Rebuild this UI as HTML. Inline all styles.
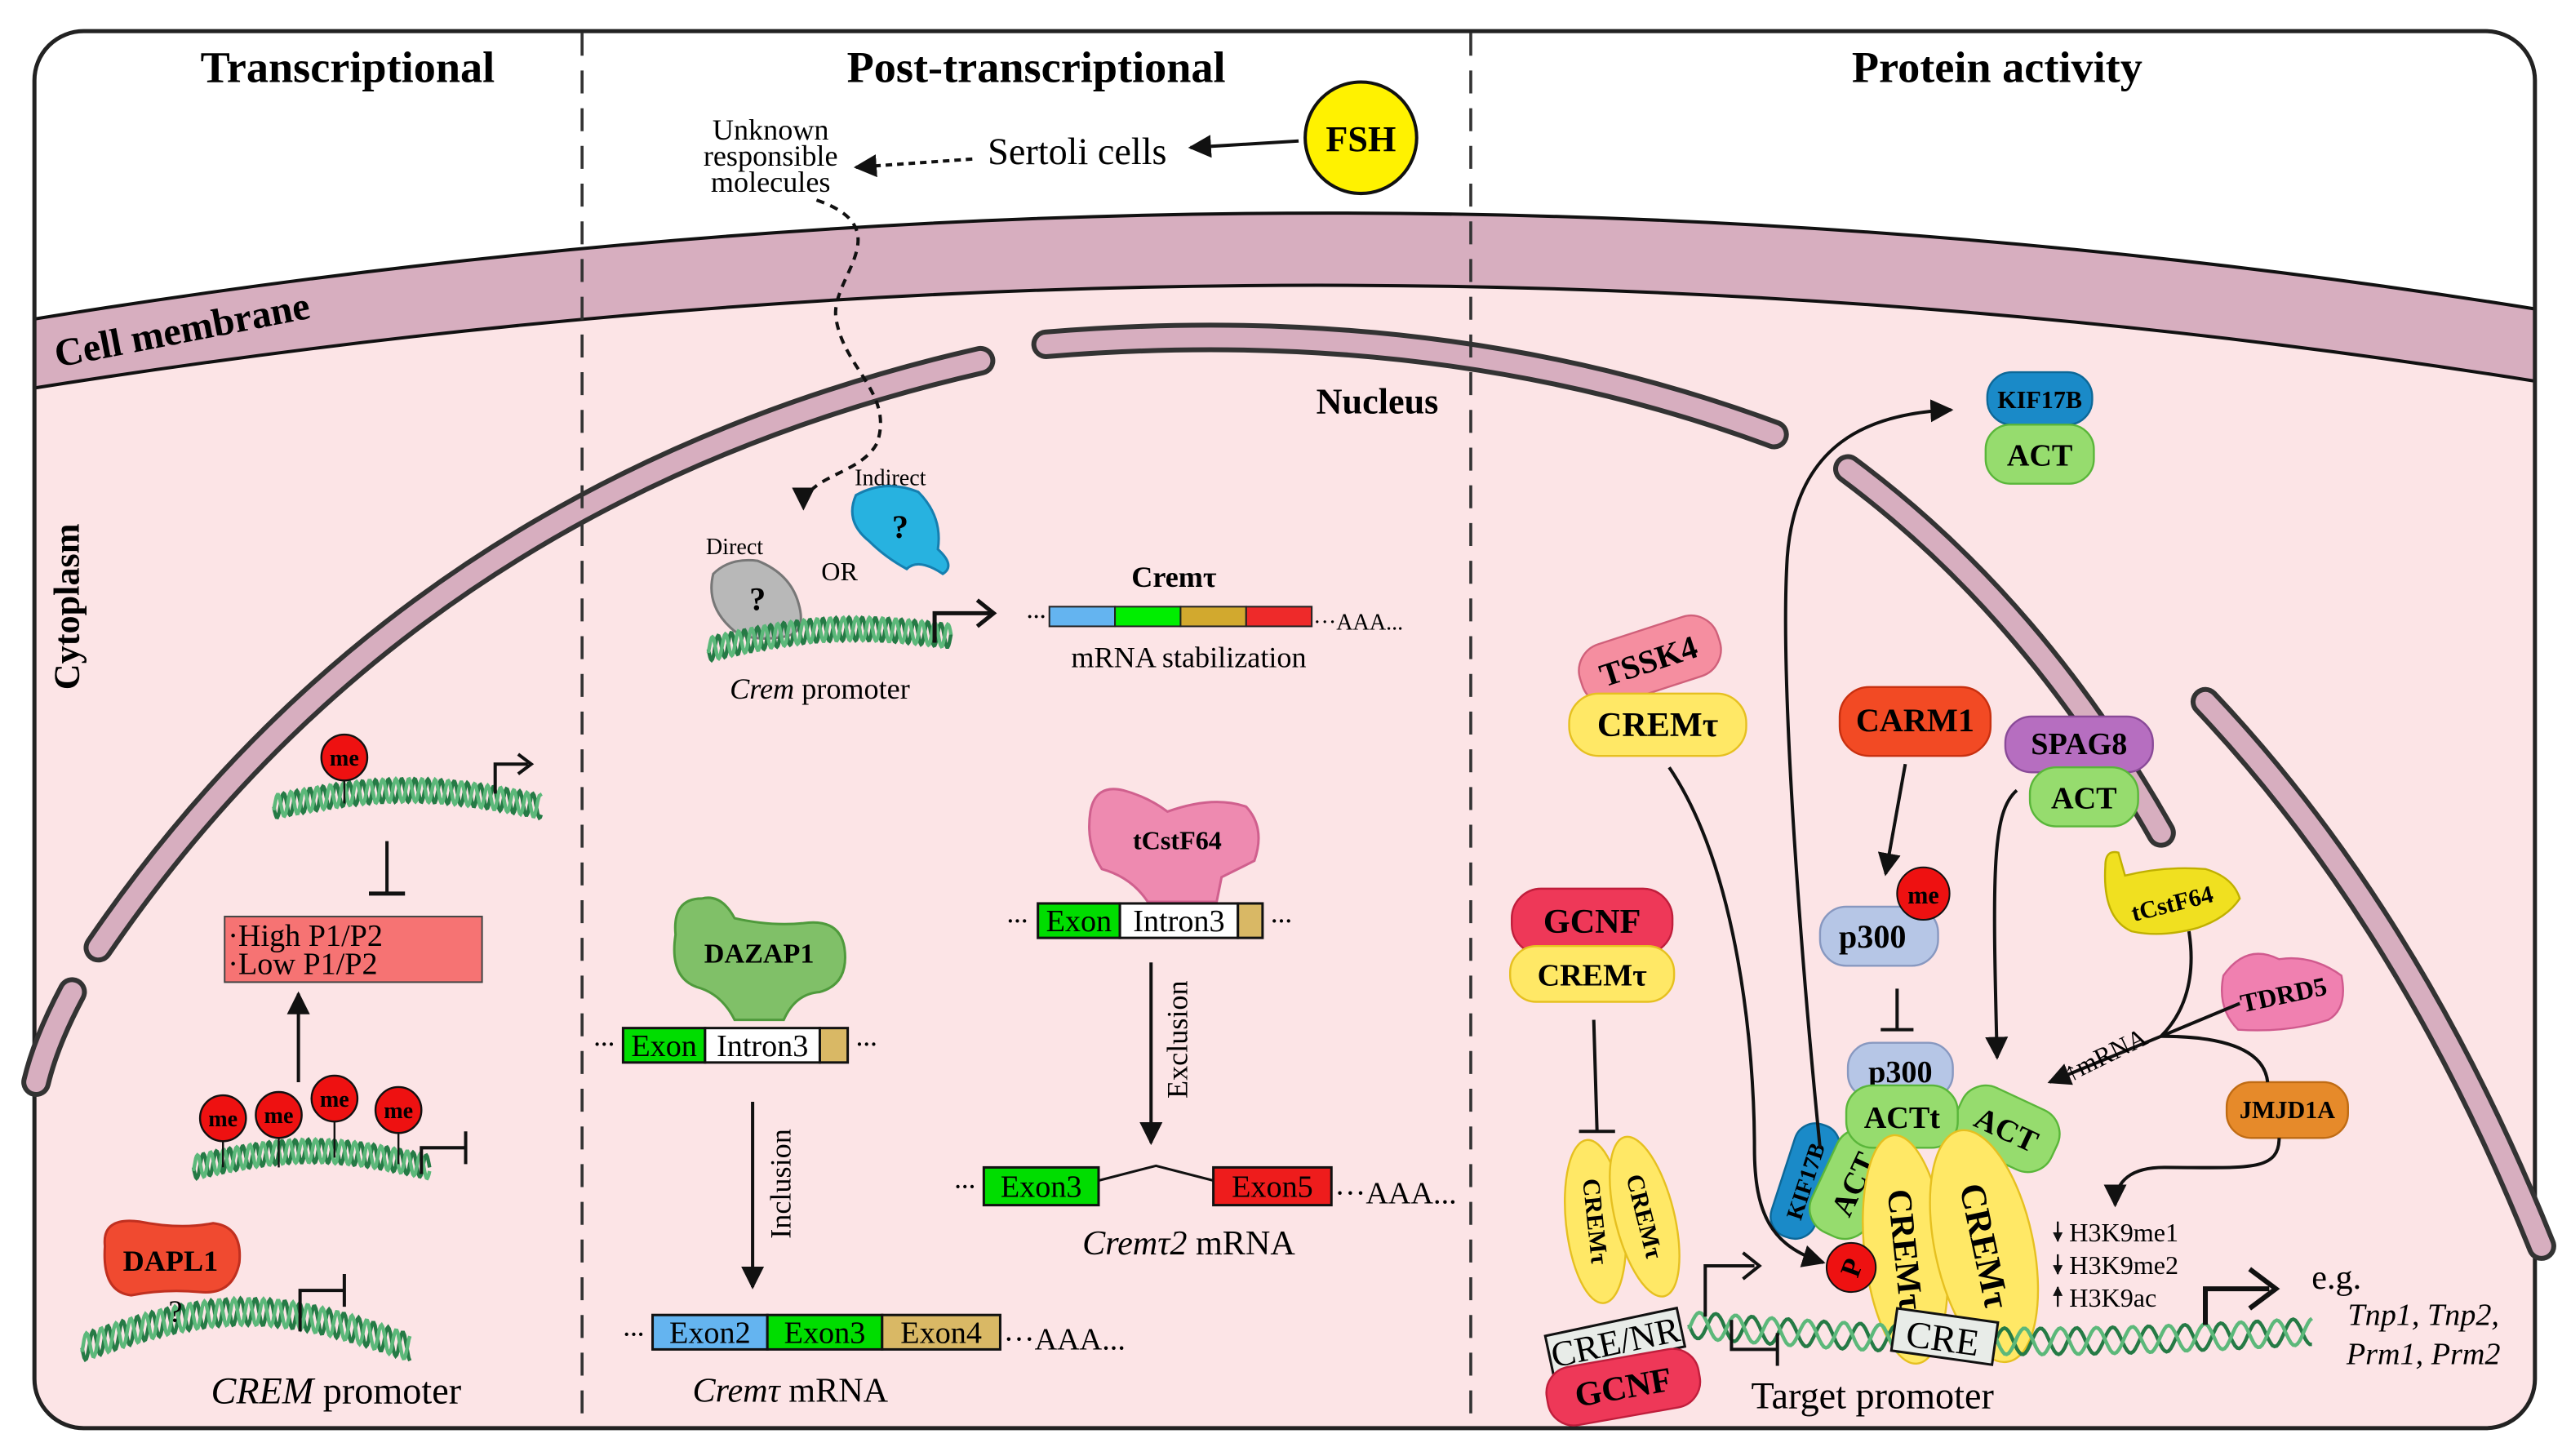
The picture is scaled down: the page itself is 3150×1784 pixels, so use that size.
<!DOCTYPE html>
<html><head><meta charset="utf-8">
<style>
html,body{margin:0;padding:0;background:#fff;}
svg{display:block;font-family:"Liberation Serif",serif;}
text{font-family:"Liberation Serif",serif;}
.b{font-weight:bold;}
</style></head>
<body>
<svg id="s" width="3150" height="1784" viewBox="0 0 1568 888" preserveAspectRatio="none" xmlns="http://www.w3.org/2000/svg" font-family="Liberation Serif, serif">
<defs>
<marker id="ah" viewBox="0 0 10 10" refX="9" refY="5" markerWidth="7" markerHeight="7" orient="auto"><path d="M0,0 L10,5 L0,10 z" fill="#111"/></marker>
<marker id="ahb" viewBox="0 0 10 10" refX="9" refY="5" markerWidth="5" markerHeight="5" orient="auto"><path d="M0,0 L10,5 L0,10 z" fill="#111"/></marker>
<clipPath id="cell"><rect x="21" y="19" width="1525" height="852" rx="30"/></clipPath>
</defs>
<rect x="21" y="19" width="1525" height="852" rx="30" fill="#fff"/>
<g clip-path="url(#cell)">
<path d="M0,240 Q800,110 1568,236 L1568,900 L0,900 Z" fill="#fce4e6"/>
<path d="M0,198 Q800,65 1568,192 L1568,236 Q800,110 0,240 Z" fill="#d7aebf" stroke="#111" stroke-width="2"/>
</g>
<rect x="21" y="19" width="1525" height="852" rx="30" fill="none" stroke="#222" stroke-width="2.5"/>
<text x="35" y="224" transform="rotate(-11 35 224)" font-size="24" class="b">Cell membrane</text>
<text x="48" y="370" transform="rotate(-90 48 370)" font-size="22" class="b" text-anchor="middle">Cytoplasm</text>

<g fill="none" stroke-linecap="round">
<g stroke="#333" stroke-width="18">
<path d="M60,578 Q250,300 598,220"/>
<path d="M44,605 Q28,635 22,660"/>
<path d="M638,210 Q880,190 1082,265"/>
<path d="M1127,286 Q1240,370 1318,508"/>
<path d="M1345,428 Q1470,560 1550,760"/>
</g>
<g stroke="#d7aebf" stroke-width="12">
<path d="M60,578 Q250,300 598,220"/>
<path d="M44,605 Q28,635 22,660"/>
<path d="M638,210 Q880,190 1082,265"/>
<path d="M1127,286 Q1240,370 1318,508"/>
<path d="M1345,428 Q1470,560 1550,760"/>
</g>
</g>
<text x="840" y="252" font-size="22" class="b" text-anchor="middle">Nucleus</text>

<line x1="355" y1="20" x2="355" y2="870" stroke="#333" stroke-width="1.8" stroke-dasharray="14,9"/>
<line x1="897" y1="20" x2="897" y2="870" stroke="#333" stroke-width="1.8" stroke-dasharray="14,9"/>

<text x="212" y="50" font-size="27" class="b" text-anchor="middle">Transcriptional</text>
<text x="632" y="50" font-size="27" class="b" text-anchor="middle">Post-transcriptional</text>
<text x="1218" y="50" font-size="27" class="b" text-anchor="middle">Protein activity</text>

<circle cx="830" cy="84" r="34" fill="#fff200" stroke="#111" stroke-width="2"/>
<text x="830" y="92" font-size="22" class="b" text-anchor="middle">FSH</text>
<line x1="792" y1="86" x2="726" y2="90" stroke="#111" stroke-width="2" marker-end="url(#ah)"/>
<text x="657" y="100" font-size="23" text-anchor="middle">Sertoli cells</text>
<line x1="593" y1="97" x2="522" y2="102" stroke="#111" stroke-width="2" stroke-dasharray="4,3" marker-end="url(#ah)"/>
<text x="470" y="85" font-size="18" text-anchor="middle">Unknown</text>
<text x="470" y="101" font-size="18" text-anchor="middle">responsible</text>
<text x="470" y="117" font-size="18" text-anchor="middle">molecules</text>
<path d="M498,122 C550,140 505,170 510,195 C515,225 545,240 535,270 C525,290 490,290 490,310" fill="none" stroke="#111" stroke-width="2" stroke-dasharray="5,4" marker-end="url(#ah)"/>

<text x="543" y="296" font-size="14" text-anchor="middle">Indirect</text>
<path d="M522,302 Q540,292 560,300 Q575,315 572,335 Q583,345 575,350 Q560,340 553,347 Q540,340 530,330 Q515,318 522,302Z" fill="#27b2e0" stroke="#157fb0" stroke-width="1.5"/>
<text x="549" y="328" font-size="20" class="b" text-anchor="middle">?</text>
<text x="448" y="338" font-size="14" text-anchor="middle">Direct</text>
<text x="512" y="354" font-size="16" text-anchor="middle">OR</text>
<path d="M435,350 Q445,340 462,342 Q482,350 487,368 Q492,385 480,388 Q460,392 448,385 Q430,370 435,350Z" fill="#b8b8b8" stroke="#777" stroke-width="1.5"/>
<text x="462" y="372" font-size="20" class="b" text-anchor="middle">?</text>
<g id="h1"></g>
<path d="M570,392 L570,374 L604,374" fill="none" stroke="#111" stroke-width="2.5"/>
<path d="M596,366 L606,374 L596,382" fill="none" stroke="#111" stroke-width="2.5"/>
<text x="500" y="426" font-size="18" text-anchor="middle"><tspan font-style="italic">Crem</tspan> promoter</text>
<text x="716" y="358" font-size="18" class="b" text-anchor="middle">Cremτ</text>
<text x="632" y="380" font-size="12" class="b" text-anchor="middle">···</text>
<rect x="640" y="370" width="40" height="12" fill="#64b4f0" stroke="#222"/>
<rect x="680" y="370" width="40" height="12" fill="#0e0" stroke="#222"/>
<rect x="720" y="370" width="40" height="12" fill="#d2a92e" stroke="#222"/>
<rect x="760" y="370" width="40" height="12" fill="#ee2a2a" stroke="#222"/>
<text x="801" y="384" font-size="14">···AAA...</text>
<text x="725" y="407" font-size="18" text-anchor="middle">mRNA stabilization</text>

<path d="M412,570 Q410,548 428,548 Q440,545 448,560 Q470,565 490,563 Q512,560 515,578 Q518,600 500,605 Q485,606 478,622 L448,622 Q440,606 425,602 Q408,596 412,570Z" fill="#80c068" stroke="#4f9a3c" stroke-width="1.5"/>
<text x="463" y="587" font-size="17" class="b" text-anchor="middle">DAZAP1</text>
<text x="362" y="641" font-size="13" class="b">···</text>
<rect x="380" y="627" width="50" height="21" fill="#0d0" stroke="#111" stroke-width="1.5"/>
<rect x="430" y="627" width="70" height="21" fill="#fff" stroke="#111" stroke-width="1.5"/>
<rect x="500" y="627" width="17" height="21" fill="#d9b865" stroke="#111" stroke-width="1.5"/>
<text x="405" y="644" font-size="19" text-anchor="middle">Exon</text>
<text x="465" y="644" font-size="19" text-anchor="middle">Intron3</text>
<text x="522" y="641" font-size="13" class="b">···</text>
<line x1="459" y1="672" x2="459" y2="785" stroke="#111" stroke-width="2" marker-end="url(#ah)"/>
<text x="482" y="722" transform="rotate(-90 482 722)" font-size="18" text-anchor="middle">Inclusion</text>
<text x="380" y="818" font-size="13" class="b">···</text>
<rect x="398" y="802" width="70" height="21" fill="#64b4f0" stroke="#111" stroke-width="1.5"/>
<rect x="468" y="802" width="70" height="21" fill="#0d0" stroke="#111" stroke-width="1.5"/>
<rect x="538" y="802" width="72" height="21" fill="#d9b865" stroke="#111" stroke-width="1.5"/>
<text x="433" y="819" font-size="19" text-anchor="middle">Exon2</text>
<text x="503" y="819" font-size="19" text-anchor="middle">Exon3</text>
<text x="574" y="819" font-size="19" text-anchor="middle">Exon4</text>
<text x="612" y="823" font-size="19">···AAA...</text>
<text x="482" y="855" font-size="21" text-anchor="middle"><tspan font-style="italic">Cremτ</tspan> mRNA</text>

<path d="M665,495 Q668,478 685,482 Q700,486 712,495 Q740,485 760,492 Q772,505 765,525 Q755,530 745,535 L742,550 L700,550 Q690,535 672,530 Q662,515 665,495Z" fill="#ee8ab0" stroke="#d0608e" stroke-width="1.5"/>
<text x="718" y="518" font-size="16" class="b" text-anchor="middle">tCstF64</text>
<text x="614" y="566" font-size="13" class="b">···</text>
<rect x="633" y="551" width="50" height="21" fill="#0d0" stroke="#111" stroke-width="1.5"/>
<rect x="683" y="551" width="72" height="21" fill="#fff" stroke="#111" stroke-width="1.5"/>
<rect x="755" y="551" width="15" height="21" fill="#d9b865" stroke="#111" stroke-width="1.5"/>
<text x="658" y="568" font-size="19" text-anchor="middle">Exon</text>
<text x="719" y="568" font-size="19" text-anchor="middle">Intron3</text>
<text x="775" y="566" font-size="13" class="b">···</text>
<line x1="702" y1="587" x2="702" y2="697" stroke="#111" stroke-width="2" marker-end="url(#ah)"/>
<text x="724" y="634" transform="rotate(-90 724 634)" font-size="18" text-anchor="middle">Exclusion</text>
<text x="582" y="728" font-size="13" class="b">···</text>
<rect x="600" y="712" width="70" height="23" fill="#0d0" stroke="#111" stroke-width="1.5"/>
<text x="635" y="730" font-size="19" text-anchor="middle">Exon3</text>
<path d="M670,720 L705,711 L740,720" fill="none" stroke="#111" stroke-width="1.5"/>
<rect x="740" y="712" width="72" height="23" fill="#ee1c1c" stroke="#111" stroke-width="1.5"/>
<text x="776" y="730" font-size="19" text-anchor="middle">Exon5</text>
<text x="814" y="734" font-size="19">···AAA...</text>
<text x="725" y="765" font-size="21" text-anchor="middle"><tspan font-style="italic">Cremτ2</tspan> mRNA</text>

<line x1="210" y1="474" x2="210" y2="490" stroke="#111" stroke-width="1.2"/>
<circle cx="210" cy="462" r="14" fill="#ee1111" stroke="#111" stroke-width="1.2"/>
<text x="210" y="467" font-size="14" class="b" text-anchor="middle">me</text>
<path d="M302,484 L302,466 L322,466" fill="none" stroke="#111" stroke-width="2"/>
<path d="M316,460 L324,466 L316,472" fill="none" stroke="#111" stroke-width="2"/>
<line x1="236" y1="513" x2="236" y2="545" stroke="#111" stroke-width="2"/>
<line x1="225" y1="545" x2="247" y2="545" stroke="#111" stroke-width="2.5"/>
<rect x="137" y="559" width="157" height="40" fill="#f67373" stroke="#444" stroke-width="1"/>
<text x="139" y="577" font-size="19">·High P1/P2</text>
<text x="139" y="594" font-size="19">·Low P1/P2</text>
<line x1="182" y1="660" x2="182" y2="606" stroke="#111" stroke-width="2" marker-end="url(#ah)"/>
<g stroke="#111" stroke-width="1.2">
<line x1="136" y1="690" x2="136" y2="712"/><line x1="170" y1="690" x2="170" y2="712"/><line x1="204" y1="680" x2="204" y2="706"/><line x1="243" y1="685" x2="243" y2="710"/>
</g>
<g fill="#ee1111" stroke="#111" stroke-width="1.2">
<circle cx="136" cy="682" r="14"/><circle cx="170" cy="680" r="14"/><circle cx="204" cy="670" r="14"/><circle cx="243" cy="677" r="14"/>
</g>
<g font-size="14" text-anchor="middle" font-weight="bold">
<text x="136" y="687">me</text><text x="170" y="685">me</text><text x="204" y="675">me</text><text x="243" y="682">me</text>
</g>
<path d="M257,716 L257,700 L284,700 M284,690 L284,710" fill="none" stroke="#111" stroke-width="2"/>
<path d="M64,760 Q62,742 85,745 Q110,750 130,746 Q148,748 146,770 Q142,790 122,788 Q100,786 80,790 Q62,788 64,760Z" fill="#f04a30" stroke="#c03020" stroke-width="1.5"/>
<text x="104" y="775" font-size="18" class="b" text-anchor="middle">DAPL1</text>
<text x="107" y="806" font-size="19" text-anchor="middle">?</text>
<path d="M183,812 L183,787 L210,787 M210,777 L210,797" fill="none" stroke="#111" stroke-width="2"/>
<text x="205" y="856" font-size="23" text-anchor="middle"><tspan font-style="italic">CREM</tspan> promoter</text>

<g font-weight="bold" text-anchor="middle">
<rect x="1212" y="227" width="64" height="32" rx="15" fill="#1a8ac8" stroke="#0d6898" stroke-width="1.2"/>
<text x="1244" y="249" font-size="15">KIF17B</text>
<rect x="1211" y="259" width="66" height="36" rx="15" fill="#96dc6e" stroke="#5ab63a" stroke-width="1.2"/>
<text x="1244" y="284" font-size="19">ACT</text>
<g transform="rotate(-18 1005 402)"><rect x="962" y="384" width="88" height="38" rx="17" fill="#f58ea0" stroke="#d0607a" stroke-width="1.2"/><text x="1005" y="410" font-size="20">TSSK4</text></g>
<rect x="957" y="423" width="108" height="38" rx="18" fill="#ffe866" stroke="#e6c020" stroke-width="1.2"/>
<text x="1011" y="449" font-size="21">CREMτ</text>
<rect x="1122" y="419" width="92" height="42" rx="18" fill="#f24a24" stroke="#c83010" stroke-width="1.2"/>
<text x="1168" y="446" font-size="20">CARM1</text>
<rect x="1223" y="437" width="90" height="34" rx="16" fill="#b66ec0" stroke="#8a4a98" stroke-width="1.2"/>
<text x="1268" y="460" font-size="19">SPAG8</text>
<rect x="1238" y="468" width="66" height="36" rx="16" fill="#96dc6e" stroke="#5ab63a" stroke-width="1.2"/>
<text x="1271" y="493" font-size="19">ACT</text>
<rect x="922" y="542" width="98" height="40" rx="18" fill="#ee3858" stroke="#c01e3c" stroke-width="1.2"/>
<text x="971" y="569" font-size="21">GCNF</text>
<rect x="921" y="577" width="100" height="34" rx="16" fill="#ffe866" stroke="#e6c020" stroke-width="1.2"/>
<text x="971" y="601" font-size="19">CREMτ</text>
<rect x="1110" y="553" width="72" height="36" rx="16" fill="#b6c6e6" stroke="#8898c0" stroke-width="1.2"/>
<text x="1142" y="578" font-size="20">p300</text>
<circle cx="1173" cy="545" r="16" fill="#ee1111" stroke="#111" stroke-width="1"/>
<text x="1173" y="551" font-size="15">me</text>
<path d="M1284,528 Q1284,518 1292,520 L1296,534 Q1320,528 1345,530 Q1362,535 1366,548 Q1358,560 1340,566 Q1318,572 1300,568 Q1282,560 1284,528Z" fill="#f0e020" stroke="#c0b000" stroke-width="1.2"/>
<text x="1325" y="556" font-size="15" transform="rotate(-14 1325 552)">tCstF64</text>
<path d="M1356,595 Q1370,575 1390,585 Q1410,582 1428,595 Q1432,615 1420,622 Q1395,630 1365,628 Q1352,615 1356,595Z" fill="#f080b0" stroke="#d05a8e" stroke-width="1.2"/>
<text x="1393" y="612" font-size="16" transform="rotate(-12 1393 608)">TDRD5</text>
<rect x="1358" y="660" width="74" height="34" rx="15" fill="#e68a2a" stroke="#c06c14" stroke-width="1.2"/>
<text x="1395" y="682" font-size="15">JMJD1A</text>
</g>

<g font-weight="bold" text-anchor="middle">
<rect x="1127" y="636" width="64" height="34" rx="15" fill="#b6c6e6" stroke="#8898c0" stroke-width="1.2"/>
<text x="1159" y="660" font-size="19">p300</text>
<g transform="rotate(25 1223 688)"><rect x="1192" y="668" width="64" height="40" rx="16" fill="#96dc6e" stroke="#5ab63a" stroke-width="1.2"/><text x="1224" y="695" font-size="19">ACT</text></g>
<g transform="rotate(-72 1100 720)"><rect x="1064" y="707" width="72" height="28" rx="13" fill="#1a8ac8" stroke="#0d6898" stroke-width="1.2"/><text x="1100" y="726" font-size="14">KIF17B</text></g>
<g transform="rotate(-65 1130 722)"><rect x="1096" y="703" width="68" height="38" rx="16" fill="#96dc6e" stroke="#5ab63a" stroke-width="1.2"/><text x="1130" y="729" font-size="19">ACT</text></g>
<rect x="1126" y="662" width="68" height="38" rx="16" fill="#96dc6e" stroke="#5ab63a" stroke-width="1.2"/>
<text x="1160" y="688" font-size="19">ACTt</text>
<g transform="rotate(-6 1162 762)"><ellipse cx="1162" cy="762" rx="25" ry="70" fill="#ffe866" stroke="#e6c020" stroke-width="1.2"/><text x="1162" y="762" font-size="21" transform="rotate(90 1162 762)" dy="7">CREMτ</text></g>
<g transform="rotate(-12 1210 760)"><ellipse cx="1210" cy="760" rx="30" ry="72" fill="#ffe866" stroke="#e6c020" stroke-width="1.2"/><text x="1210" y="760" font-size="22" transform="rotate(90 1210 760)" dy="7">CREMτ</text></g>
<g transform="rotate(-6 973 745)"><ellipse cx="973" cy="745" rx="18" ry="50" fill="#ffe866" stroke="#e6c020" stroke-width="1.2"/><text x="973" y="745" font-size="15" transform="rotate(90 973 745)" dy="5">CREMτ</text></g>
<g transform="rotate(-14 1003 742)"><ellipse cx="1003" cy="742" rx="18" ry="50" fill="#ffe866" stroke="#e6c020" stroke-width="1.2"/><text x="1003" y="742" font-size="15" transform="rotate(90 1003 742)" dy="5">CREMτ</text></g>
<circle cx="1129" cy="773" r="15" fill="#ee1111" stroke="#111" stroke-width="1"/>
<text x="1129" y="779" font-size="17" transform="rotate(-70 1129 773)">P</text>
</g>

<g id="h2"></g>
<g transform="rotate(-12 985 818)"><rect x="944" y="806" width="82" height="24" fill="#e8ece8" stroke="#111" stroke-width="1.5"/><text x="985" y="826" font-size="22" text-anchor="middle">CRE/NR</text></g>
<rect x="943" y="828" width="94" height="36" rx="16" fill="#ee3858" stroke="#c01e3c" stroke-width="1.2" transform="rotate(-10 990 846)"/>
<text x="990" y="853" font-size="21" text-anchor="middle" font-weight="bold" transform="rotate(-10 990 846)">GCNF</text>
<g transform="rotate(8 1185 815)"><rect x="1155" y="802" width="62" height="26" fill="#e8ece8" stroke="#111" stroke-width="1.5"/><text x="1185" y="824" font-size="23" text-anchor="middle">CRE</text></g>
<text x="1142" y="859" font-size="23" text-anchor="middle">Target promoter</text>
<path d="M1040,803 L1040,772 L1070,772" fill="none" stroke="#111" stroke-width="2"/>
<path d="M1063,764 L1073,772 L1063,780" fill="none" stroke="#111" stroke-width="2"/>
<path d="M1056,805 L1056,823 L1084,823 M1084,813 L1084,833" fill="none" stroke="#111" stroke-width="2"/>
<path d="M1345,808 L1345,786 L1384,786" fill="none" stroke="#111" stroke-width="3"/>
<path d="M1372,774 L1388,786 L1372,798" fill="none" stroke="#111" stroke-width="3"/>
<g font-size="16">
<text x="1262" y="757">H3K9me1</text><text x="1262" y="777">H3K9me2</text><text x="1262" y="797">H3K9ac</text>
</g>
<g stroke="#111" stroke-width="1.2">
<line x1="1255" y1="745" x2="1255" y2="757" marker-end="url(#ahb)"/>
<line x1="1255" y1="765" x2="1255" y2="777" marker-end="url(#ahb)"/>
<line x1="1255" y1="797" x2="1255" y2="785" marker-end="url(#ahb)"/>
</g>
<text x="1425" y="786" font-size="21" text-anchor="middle">e.g.</text>
<text x="1478" y="808" font-size="19" font-style="italic" text-anchor="middle">Tnp1, Tnp2,</text>
<text x="1478" y="832" font-size="19" font-style="italic" text-anchor="middle">Prm1, Prm2</text>

<g fill="none" stroke="#111" stroke-width="2">
<path d="M1018,468 C1060,530 1070,640 1070,700 C1070,740 1080,760 1112,770" marker-end="url(#ah)"/>
<path d="M1110,700 C1100,600 1085,420 1090,340 C1095,270 1140,252 1190,250" marker-end="url(#ah)"/>
<path d="M1162,466 L1150,533" marker-end="url(#ah)"/>
<path d="M1157,603 L1157,628 M1147,628 L1167,628"/>
<path d="M1230,482 C1215,495 1215,530 1218,645" marker-end="url(#ah)"/>
<path d="M1335,568 C1340,600 1330,620 1318,632"/>
<path d="M1366,612 L1318,632 L1250,660" marker-end="url(#ah)"/>
<path d="M1318,632 Q1380,632 1383,660"/>
<path d="M1390,694 C1390,715 1370,712 1320,712 C1300,712 1290,720 1290,735" marker-end="url(#ah)"/>
<path d="M972,622 L974,690 M963,690 L985,690"/>
</g>
<text x="1262" y="660" font-size="16" transform="rotate(-26 1262 660)">↑mRNA</text>

<script>
function helix(g,x1,y1,x2,y2,amp,per,bend){
  var el=document.getElementById(g),ns="http://www.w3.org/2000/svg";
  for(var k=0;k<2;k++){
    var d="",n=300;
    for(var i=0;i<=n;i++){
      var t=i/n,x=x1+(x2-x1)*t,y=y1+(y2-y1)*t+bend*Math.sin(Math.PI*t);
      var L=Math.hypot(x2-x1,y2-y1);
      y+=amp*Math.sin(2*Math.PI*t*L/per+k*Math.PI*0.9);
      d+=(i?"L":"M")+x.toFixed(1)+","+y.toFixed(1);
    }
    var p=document.createElementNS(ns,"path");
    p.setAttribute("d",d);p.setAttribute("fill","none");
    p.setAttribute("stroke",k?"#5cb87a":"#257a45");p.setAttribute("stroke-width","2.2");
    el.appendChild(p);
  }
}
var s=document.getElementById("s");
function mk(id){var g=document.createElementNS("http://www.w3.org/2000/svg","g");g.id=id;s.insertBefore(g,s.querySelector("#h1"));return g;}
mk("d1");mk("d2");mk("d3");mk("d4");
helix("d1",167,492,330,492,7,8,-10);
helix("d2",118,712,262,712,7,8,-10);
helix("d3",50,822,250,822,8,9,-22);
helix("d4",432,396,580,388,7,8,-8);
helix("h2",1030,808,1410,812,8,22,8);
</script>
</svg>
</body></html>
